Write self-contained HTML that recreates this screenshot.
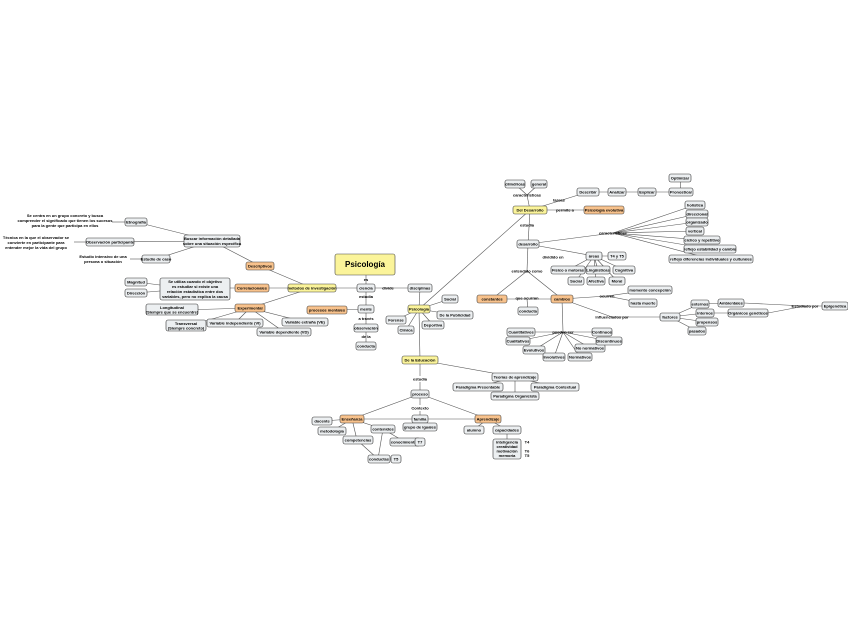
<!DOCTYPE html>
<html><head><meta charset="utf-8"><style>
body{margin:0;background:#fff}
svg{display:block}
text{font-family:"Liberation Sans",sans-serif;font-size:4px;text-anchor:middle;fill:#000;font-weight:bold}
.n{fill:#eceff1;stroke:#333;stroke-width:.6}
.y{fill:#fbf49a;stroke:#444;stroke-width:.6}
.o{fill:#f8c28c;stroke:#444;stroke-width:.6}
line,polyline{stroke:#555;stroke-width:.6;fill:none}
.b{font-weight:bold}
</style></head><body>
<svg width="848" height="638" viewBox="0 0 848 638" xmlns="http://www.w3.org/2000/svg">
<g>
<line x1="366" y1="275" x2="366" y2="346"/>
<line x1="312" y1="288" x2="420" y2="288"/>
<line x1="366" y1="309" x2="327" y2="310"/>
<line x1="312" y1="288" x2="260" y2="266"/>
<line x1="312" y1="288" x2="252" y2="288"/>
<line x1="312" y1="288" x2="250" y2="308"/>
<line x1="260" y1="266" x2="212" y2="241"/>
<line x1="212" y1="241" x2="136" y2="222"/>
<line x1="212" y1="241" x2="110" y2="242"/>
<line x1="212" y1="241" x2="156" y2="259"/>
<line x1="126" y1="222" x2="112" y2="222"/>
<line x1="86" y1="242" x2="74" y2="242"/>
<line x1="142" y1="259" x2="130" y2="259"/>
<line x1="252" y1="288" x2="195" y2="288"/>
<line x1="160" y1="285" x2="136" y2="282"/>
<line x1="160" y1="291" x2="136" y2="293"/>
<line x1="250" y1="308" x2="182" y2="310"/>
<line x1="250" y1="308" x2="188" y2="326"/>
<line x1="250" y1="308" x2="235" y2="323"/>
<line x1="250" y1="308" x2="305" y2="322"/>
<line x1="250" y1="308" x2="284" y2="332"/>
<line x1="420" y1="288" x2="419" y2="309"/>
<line x1="419" y1="309" x2="450" y2="299"/>
<line x1="419" y1="309" x2="455" y2="315"/>
<line x1="419" y1="309" x2="396" y2="320"/>
<line x1="419" y1="309" x2="406" y2="330"/>
<line x1="419" y1="309" x2="433" y2="325"/>
<line x1="419" y1="309" x2="420" y2="360"/>
<line x1="419" y1="309" x2="530" y2="210"/>
<line x1="530" y1="210" x2="527" y2="195"/>
<line x1="527" y1="195" x2="515" y2="184"/>
<line x1="527" y1="195" x2="539" y2="184"/>
<line x1="530" y1="210" x2="588" y2="192"/>
<line x1="588" y1="192" x2="681" y2="192"/>
<line x1="681" y1="192" x2="680" y2="178"/>
<line x1="530" y1="210" x2="603" y2="210"/>
<line x1="530" y1="210" x2="528" y2="244"/>
<line x1="528" y1="244" x2="613" y2="233"/>
<line x1="613" y1="233" x2="695" y2="205"/>
<line x1="613" y1="233" x2="697" y2="214"/>
<line x1="613" y1="233" x2="697" y2="222"/>
<line x1="613" y1="233" x2="695" y2="231"/>
<line x1="613" y1="233" x2="702" y2="240"/>
<line x1="613" y1="233" x2="710" y2="249"/>
<line x1="613" y1="233" x2="711" y2="259"/>
<line x1="528" y1="244" x2="594" y2="256"/>
<line x1="594" y1="256" x2="617" y2="256"/>
<line x1="594" y1="256" x2="568" y2="270"/>
<line x1="594" y1="256" x2="598" y2="270"/>
<line x1="594" y1="256" x2="624" y2="270"/>
<line x1="594" y1="256" x2="576" y2="281"/>
<line x1="594" y1="256" x2="596" y2="281"/>
<line x1="594" y1="256" x2="617" y2="281"/>
<line x1="528" y1="244" x2="527" y2="271"/>
<line x1="527" y1="271" x2="492" y2="299"/>
<line x1="527" y1="271" x2="562" y2="299"/>
<line x1="492" y1="299" x2="562" y2="299"/>
<line x1="527" y1="299" x2="528" y2="311"/>
<line x1="562" y1="299" x2="607" y2="296"/>
<line x1="607" y1="296" x2="650" y2="290"/>
<line x1="607" y1="296" x2="643" y2="303"/>
<line x1="562" y1="299" x2="612" y2="317"/>
<line x1="612" y1="317" x2="670" y2="317"/>
<line x1="670" y1="317" x2="700" y2="304"/>
<line x1="670" y1="317" x2="705" y2="313"/>
<line x1="670" y1="317" x2="707" y2="322"/>
<line x1="670" y1="317" x2="697" y2="331"/>
<line x1="700" y1="304" x2="731" y2="303"/>
<line x1="705" y1="313" x2="748" y2="313"/>
<line x1="744" y1="303" x2="805" y2="306"/>
<line x1="768" y1="313" x2="805" y2="306"/>
<line x1="805" y1="306" x2="835" y2="306"/>
<line x1="562" y1="299" x2="563" y2="332"/>
<line x1="563" y1="332" x2="521" y2="332"/>
<line x1="563" y1="332" x2="518" y2="341"/>
<line x1="563" y1="332" x2="534" y2="350"/>
<line x1="563" y1="332" x2="554" y2="357"/>
<line x1="563" y1="332" x2="580" y2="357"/>
<line x1="563" y1="332" x2="590" y2="348"/>
<line x1="563" y1="332" x2="609" y2="341"/>
<line x1="563" y1="332" x2="602" y2="332"/>
<line x1="420" y1="360" x2="515" y2="377"/>
<line x1="515" y1="377" x2="478" y2="387"/>
<line x1="515" y1="377" x2="555" y2="387"/>
<line x1="515" y1="377" x2="515" y2="396"/>
<line x1="420" y1="360" x2="420" y2="427"/>
<line x1="420" y1="394" x2="352" y2="419"/>
<line x1="420" y1="394" x2="488" y2="419"/>
<line x1="352" y1="419" x2="488" y2="419"/>
<line x1="352" y1="419" x2="322" y2="421"/>
<line x1="352" y1="419" x2="332" y2="431"/>
<line x1="352" y1="419" x2="357" y2="440"/>
<line x1="352" y1="419" x2="383" y2="429"/>
<line x1="357" y1="440" x2="378" y2="459"/>
<line x1="383" y1="429" x2="378" y2="459"/>
<line x1="383" y1="429" x2="405" y2="442"/>
<line x1="405" y1="442" x2="419" y2="442"/>
<line x1="378" y1="459" x2="396" y2="459"/>
<line x1="488" y1="419" x2="473" y2="430"/>
<line x1="488" y1="419" x2="507" y2="430"/>
<line x1="507" y1="430" x2="507" y2="442"/>
</g>
<rect class="y" x="335" y="254" width="60" height="21" rx="2"/><text x="365" y="267" class="b" style="font-size:8px">Psicología</text>
<text x="366" y="281">es</text>
<rect class="n" x="357" y="284" width="18" height="8" rx="2"/><text x="366" y="289.5">ciencia</text>
<text x="366" y="298">estudia</text>
<rect class="n" x="358" y="305" width="16" height="8" rx="2"/><text x="366" y="310.5">mente</text>
<text x="366" y="320">a través</text>
<rect class="n" x="354" y="324" width="24" height="8" rx="2"/><text x="366" y="329.5">observación</text>
<text x="366" y="338">de la</text>
<rect class="n" x="356" y="342" width="20" height="8" rx="2"/><text x="366" y="347.5">conducta</text>
<text x="388" y="289.5">divide</text>
<rect class="n" x="408" y="284" width="24" height="8" rx="2"/><text x="420" y="289.5">disciplinas</text>
<rect class="y" x="288" y="284" width="48" height="8" rx="2"/><text x="312" y="289.5">métodos de investigación</text>
<rect class="o" x="307" y="306" width="40" height="8" rx="2"/><text x="327" y="311.5">procesos mentales</text>
<rect class="o" x="246" y="262" width="28" height="8" rx="2"/><text x="260" y="267.5">Descriptivos</text>
<rect class="n" x="184" y="235" width="56" height="12" rx="2"/><text x="212" y="240">Buscar información detallada</text><text x="212" y="245">sobre una situación específica</text>
<rect class="n" x="125" y="218" width="22" height="8" rx="2"/><text x="136" y="223.5">Etnografía</text>
<text x="65" y="217">Se centra en un grupo concreto y busca</text><text x="65" y="222">comprender el significado que tienen los sucesos</text><text x="65" y="227">para la gente que participa en ellos</text>
<rect class="n" x="86" y="238" width="48" height="8" rx="2"/><text x="110" y="243.5">Observación participante</text>
<text x="36" y="239">Técnica en la que el observador se</text><text x="36" y="244">convierte en participante para</text><text x="36" y="249">entender mejor la vida del grupo</text>
<rect class="n" x="142" y="255" width="28" height="8" rx="2"/><text x="156" y="260.5">Estudio de caso</text>
<text x="103" y="258">Estudio intensivo de una</text><text x="103" y="263">persona o situación</text>
<rect class="o" x="235" y="284" width="34" height="8" rx="2"/><text x="252" y="289.5">Correlacionales</text>
<rect class="n" x="160" y="278" width="70" height="22" rx="2"/><text x="195" y="283">Se utiliza cuando el objetivo</text><text x="195" y="288">es estudiar si existe una</text><text x="195" y="293">relación estadística entre dos</text><text x="195" y="298">variables, pero no explica la causa</text>
<rect class="n" x="125" y="278" width="22" height="8" rx="2"/><text x="136" y="283.5">Magnitud</text>
<rect class="n" x="125" y="289" width="22" height="8" rx="2"/><text x="136" y="294.5">Dirección</text>
<rect class="o" x="235" y="304" width="30" height="8" rx="2"/><text x="250" y="309.5">Experimental</text>
<rect class="n" x="146" y="304" width="52" height="11" rx="2"/><text x="172" y="309">Longitudinal</text><text x="172" y="313.5">(Siempre que se encuentre)</text>
<rect class="n" x="166" y="320" width="40" height="11" rx="2"/><text x="186" y="325">Transversal</text><text x="186" y="329.5">(Siempre concreto)</text>
<rect class="n" x="207" y="319" width="56" height="8" rx="2"/><text x="235" y="324.5">Variable independiente (VI)</text>
<rect class="n" x="282" y="318" width="46" height="8" rx="2"/><text x="305" y="323.5">Variable extraña (VE)</text>
<rect class="n" x="257" y="328" width="54" height="8" rx="2"/><text x="284" y="333.5">Variable dependiente (VD)</text>
<rect class="y" x="408" y="305" width="22" height="8" rx="2"/><text x="419" y="310.5">Psicología</text>
<rect class="n" x="442" y="295" width="16" height="8" rx="2"/><text x="450" y="300.5">Social</text>
<rect class="n" x="437" y="311" width="36" height="8" rx="2"/><text x="455" y="316.5">De la Publicidad</text>
<rect class="n" x="386" y="316" width="20" height="8" rx="2"/><text x="396" y="321.5">Forense</text>
<rect class="n" x="398" y="326" width="16" height="8" rx="2"/><text x="406" y="331.5">Clínica</text>
<rect class="n" x="422" y="321" width="22" height="8" rx="2"/><text x="433" y="326.5">Deportiva</text>
<rect class="y" x="402" y="356" width="36" height="8" rx="2"/><text x="420" y="361.5">De la Educación</text>
<rect class="y" x="513" y="206" width="34" height="8" rx="2"/><text x="530" y="211.5">Del Desarrollo</text>
<text x="527" y="196.5">características</text>
<rect class="n" x="505" y="180" width="20" height="8" rx="2"/><text x="515" y="185.5">cilíndricas</text>
<rect class="n" x="531" y="180" width="16" height="8" rx="2"/><text x="539" y="185.5">general</text>
<text x="559" y="201.5">tareas</text>
<rect class="n" x="577" y="188" width="22" height="8" rx="2"/><text x="588" y="193.5">Describir</text>
<rect class="n" x="608" y="188" width="18" height="8" rx="2"/><text x="617" y="193.5">Analizar</text>
<rect class="n" x="638" y="188" width="18" height="8" rx="2"/><text x="647" y="193.5">Explicar</text>
<rect class="n" x="669" y="188" width="24" height="8" rx="2"/><text x="681" y="193.5">Pronosticar</text>
<rect class="n" x="669" y="174" width="22" height="8" rx="2"/><text x="680" y="179.5">Optimizar</text>
<text x="565" y="211.5">permite a</text>
<rect class="o" x="584" y="206" width="40" height="8" rx="2"/><text x="604" y="211.5">Psicología evolutiva</text>
<text x="527" y="226.5">estudia</text>
<rect class="n" x="517" y="240" width="22" height="8" rx="2"/><text x="528" y="245.5">desarrollo</text>
<text x="613" y="234.5">características</text>
<rect class="n" x="685" y="201" width="20" height="8" rx="2"/><text x="695" y="206.5">holística</text>
<rect class="n" x="686" y="210" width="22" height="8" rx="2"/><text x="697" y="215.5">direccional</text>
<rect class="n" x="686" y="218" width="22" height="8" rx="2"/><text x="697" y="223.5">organizado</text>
<rect class="n" x="686" y="227" width="18" height="8" rx="2"/><text x="695" y="232.5">vertical</text>
<rect class="n" x="684" y="236" width="36" height="8" rx="2"/><text x="702" y="241.5">cíclico y repetitivo</text>
<rect class="n" x="684" y="245" width="52" height="8" rx="2"/><text x="710" y="250.5">reflejo estabilidad y cambio</text>
<rect class="n" x="669" y="255" width="84" height="8" rx="2"/><text x="711" y="260.5">reflejo diferencias individuales y culturales</text>
<text x="553" y="258.5">dividido en</text>
<rect class="n" x="586" y="252" width="16" height="8" rx="2"/><text x="594" y="257.5">áreas</text>
<rect class="n" x="608" y="252" width="18" height="8" rx="2"/><text x="617" y="257.5">T4 y T5</text>
<rect class="n" x="551" y="266" width="34" height="8" rx="2"/><text x="568" y="271.5">Físico o motoras</text>
<rect class="n" x="586" y="266" width="24" height="8" rx="2"/><text x="598" y="271.5">Lingüísticas</text>
<rect class="n" x="613" y="266" width="22" height="8" rx="2"/><text x="624" y="271.5">Cognitiva</text>
<rect class="n" x="568" y="277" width="16" height="8" rx="2"/><text x="576" y="282.5">Social</text>
<rect class="n" x="587" y="277" width="18" height="8" rx="2"/><text x="596" y="282.5">Afectiva</text>
<rect class="n" x="609" y="277" width="16" height="8" rx="2"/><text x="617" y="282.5">Moral</text>
<text x="527" y="272.5">entendido como</text>
<rect class="o" x="477" y="295" width="30" height="8" rx="2"/><text x="492" y="300.5">constantes</text>
<text x="527" y="299.5">que ocurran</text>
<rect class="n" x="518" y="307" width="20" height="8" rx="2"/><text x="528" y="312.5">conducta</text>
<rect class="o" x="551" y="295" width="22" height="8" rx="2"/><text x="562" y="300.5">cambios</text>
<text x="607" y="297.5">ocurren</text>
<rect class="n" x="628" y="286" width="44" height="8" rx="2"/><text x="650" y="291.5">momento concepción</text>
<rect class="n" x="629" y="299" width="28" height="8" rx="2"/><text x="643" y="304.5">hasta muerte</text>
<text x="612" y="318.5">influenciados por</text>
<rect class="n" x="660" y="313" width="20" height="8" rx="2"/><text x="670" y="318.5">factores</text>
<rect class="n" x="691" y="300" width="18" height="8" rx="2"/><text x="700" y="305.5">externos</text>
<rect class="n" x="718" y="299" width="26" height="8" rx="2"/><text x="731" y="304.5">Ambientales</text>
<rect class="n" x="696" y="309" width="18" height="8" rx="2"/><text x="705" y="314.5">internos</text>
<rect class="n" x="728" y="309" width="40" height="8" rx="2"/><text x="748" y="314.5">Orgánicos genéticos</text>
<rect class="n" x="696" y="318" width="22" height="8" rx="2"/><text x="707" y="323.5">propensos</text>
<rect class="n" x="688" y="327" width="18" height="8" rx="2"/><text x="697" y="332.5">pasados</text>
<text x="805" y="307.5">Estudiado por</text>
<rect class="n" x="822" y="302" width="26" height="8" rx="2"/><text x="835" y="307.5">Epigenética</text>
<text x="563" y="333.5">pueden ser</text>
<rect class="n" x="507" y="328" width="28" height="8" rx="2"/><text x="521" y="333.5">Cuantitativos</text>
<rect class="n" x="506" y="337" width="24" height="8" rx="2"/><text x="518" y="342.5">Cualitativos</text>
<rect class="n" x="523" y="346" width="22" height="8" rx="2"/><text x="534" y="351.5">Evolutivos</text>
<rect class="n" x="543" y="353" width="22" height="8" rx="2"/><text x="554" y="358.5">Involutivos</text>
<rect class="n" x="568" y="353" width="24" height="8" rx="2"/><text x="580" y="358.5">Normativos</text>
<rect class="n" x="575" y="344" width="30" height="8" rx="2"/><text x="590" y="349.5">No normativos</text>
<rect class="n" x="596" y="337" width="26" height="8" rx="2"/><text x="609" y="342.5">Discontinuos</text>
<rect class="n" x="592" y="328" width="20" height="8" rx="2"/><text x="602" y="333.5">Continuos</text>
<rect class="n" x="492" y="373" width="46" height="8" rx="2"/><text x="515" y="378.5">Teorías de aprendizaje</text>
<rect class="n" x="453" y="383" width="50" height="8" rx="2"/><text x="478" y="388.5">Paradigma Presentable</text>
<rect class="n" x="531" y="383" width="48" height="8" rx="2"/><text x="555" y="388.5">Paradigma Contextual</text>
<rect class="n" x="491" y="392" width="48" height="8" rx="2"/><text x="515" y="397.5">Paradigma Organicista</text>
<rect fill="#fff" x="410" y="376" width="20" height="6"/><text x="420" y="380.5">estudia</text>
<rect class="n" x="411" y="390" width="18" height="8" rx="2"/><text x="420" y="395.5">proceso</text>
<rect fill="#fff" x="410" y="405" width="20" height="6"/><text x="420" y="409.5">Contexto</text>
<rect class="n" x="412" y="415" width="16" height="8" rx="2"/><text x="420" y="420.5">familia</text>
<rect class="n" x="403" y="423" width="34" height="8" rx="2"/><text x="420" y="428.5">grupo de iguales</text>
<rect class="o" x="340" y="415" width="24" height="8" rx="2"/><text x="352" y="420.5">Enseñanza</text>
<rect class="o" x="475" y="415" width="26" height="8" rx="2"/><text x="488" y="420.5">Aprendizaje</text>
<rect class="n" x="312" y="417" width="20" height="8" rx="2"/><text x="322" y="422.5">docente</text>
<rect class="n" x="318" y="427" width="28" height="8" rx="2"/><text x="332" y="432.5">metodología</text>
<rect class="n" x="343" y="436" width="30" height="8" rx="2"/><text x="358" y="441.5">competencias</text>
<rect class="n" x="371" y="425" width="24" height="8" rx="2"/><text x="383" y="430.5">contenidos</text>
<rect class="n" x="390" y="438" width="30" height="8" rx="2"/><text x="405" y="443.5">conocimientos</text>
<rect class="n" x="415" y="438" width="10" height="8" rx="2"/><text x="420" y="443.5">T7</text>
<rect class="n" x="368" y="455" width="22" height="8" rx="2"/><text x="379" y="460.5">conductas</text>
<rect class="n" x="391" y="455" width="10" height="8" rx="2"/><text x="396" y="460.5">T5</text>
<rect class="n" x="464" y="426" width="20" height="8" rx="2"/><text x="474" y="431.5">alumno</text>
<rect class="n" x="493" y="426" width="28" height="8" rx="2"/><text x="507" y="431.5">capacidades</text>
<rect class="n" x="493" y="439" width="28" height="20" rx="2"/><text x="507" y="443.5">inteligencia</text><text x="507" y="448">creatividad</text><text x="507" y="452.5">motivación</text><text x="507" y="457">memoria</text>
<text x="527" y="443.5">T4</text><text x="527" y="452.5">T6</text><text x="527" y="457">T5</text>
</svg>
</body></html>
